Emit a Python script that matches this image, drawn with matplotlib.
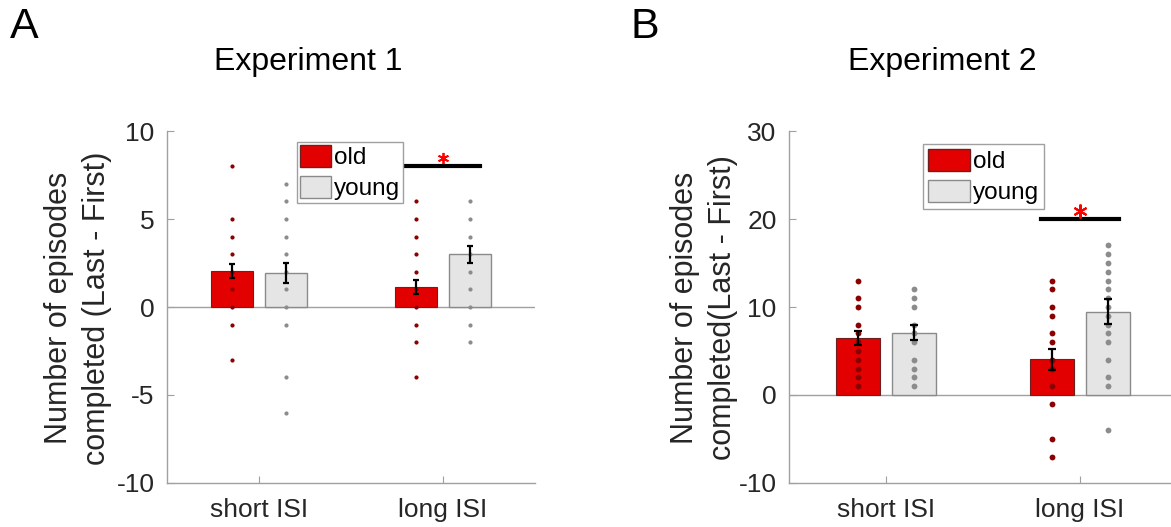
import numpy as np
import matplotlib.pyplot as plt

plt.rcParams['font.family'] = ['Liberation Sans', 'DejaVu Sans']
plt.rcParams['axes.unicode_minus'] = False

groups = ["short ISI", "long ISI"]
legend_labels = ["old", "young"]

# Experiment 1: group means and SEM (short ISI, long ISI)
exp1_old_mean = [2.05, 1.14]
exp1_old_sem = [0.38, 0.40]
exp1_young_mean = [1.93, 3.0]
exp1_young_sem = [0.55, 0.48]
# individual participant values
exp1_old_short = [8, 5, 4, 3, 2, 1, 0, -1, -3]
exp1_young_short = [7, 6, 5, 4, 3, 2, 1, 0, -1, -4, -6]
exp1_old_long = [6, 5, 4, 3, 2, 1, 0, -1, -2, -4]
exp1_young_long = [6, 5, 4, 3, 2, 1, 0, -1, -2]

# Experiment 2
exp2_old_mean = [6.5, 4.05]
exp2_old_sem = [0.8, 1.17]
exp2_young_mean = [7.1, 9.47]
exp2_young_sem = [0.8, 1.44]
exp2_old_short = [13, 11, 10, 8, 7, 6, 5, 4, 3, 2, 1]
exp2_young_short = [12, 11, 10, 8, 7, 6, 4, 3, 2, 1]
exp2_old_long = [13, 12, 10, 9, 7, 6, 4, 3, 1, -1, -5, -7]
exp2_young_long = [17, 16, 15, 14, 13, 12, 11, 10, 9, 8, 7, 6, 4, 2, 1, -4]

# significance bar height (long ISI, old vs young)
exp1_sig_y = 8
exp2_sig_y = 20

RED = '#e30000'
LIGHT = '#e5e5e5'
DOT_OLD = '#8b0000'
DOT_YOUNG = '#8c8c8c'
AXCOL = '#a0a0a0'


def draw_panel(ax, old_mean, old_sem, young_mean, young_sem, old_pts, young_pts,
               sig_y, ylim, yticks, dot_ms, cap):
    x = np.arange(1, len(groups) + 1)
    off = 0.145
    w = 0.23
    ax.axhline(0, color=AXCOL, lw=1, zorder=1)
    ax.bar(x - off, old_mean, w, color=RED, edgecolor='#6e2020', lw=0.8, zorder=2)
    ax.bar(x + off, young_mean, w, color=LIGHT, edgecolor='#8a8a8a', lw=1, zorder=2)

    # individual dots
    for i in range(len(groups)):
        ax.plot(np.full(len(old_pts[i]), x[i] - off), old_pts[i], 'o', color=DOT_OLD,
                ms=dot_ms, mew=0, zorder=3)
        ax.plot(np.full(len(young_pts[i]), x[i] + off), young_pts[i], 'o', color=DOT_YOUNG,
                ms=dot_ms, mew=0, zorder=3)

    ax.errorbar(x - off, old_mean, yerr=old_sem, fmt='none', ecolor='black', elinewidth=1.6,
                capsize=cap, capthick=1.6, zorder=4)
    ax.errorbar(x + off, young_mean, yerr=young_sem, fmt='none', ecolor='black', elinewidth=1.6,
                capsize=cap, capthick=1.6, zorder=4)

    # significance line
    ax.plot([x[1] - 0.2, x[1] + 0.2], [sig_y, sig_y], color='black', lw=3, zorder=4)

    ax.set_xlim(0.5, 2.5)
    ax.set_ylim(*ylim)
    ax.set_yticks(yticks)
    ax.set_xticks(x)
    ax.set_xticklabels(groups)
    for s in ['top', 'right']:
        ax.spines[s].set_visible(False)
    for s in ['left', 'bottom']:
        ax.spines[s].set_color(AXCOL)
        ax.spines[s].set_linewidth(1)
    ax.tick_params(direction='in', length=5, color=AXCOL, labelsize=19, labelcolor='#262626')
    ax.tick_params(axis='x', pad=11)
    ax.tick_params(axis='y', pad=9)
    return x


fig = plt.figure(figsize=(11.71, 5.27), dpi=100)

ax1 = fig.add_axes([0.1426, 0.0835, 0.3143, 0.6679])
x1 = draw_panel(ax1, exp1_old_mean, exp1_old_sem, exp1_young_mean, exp1_young_sem,
                [exp1_old_short, exp1_old_long], [exp1_young_short, exp1_young_long],
                exp1_sig_y, (-10, 10), [-10, -5, 0, 5, 10], 3.0, 2.2)
ax1.plot(x1[1], exp1_sig_y + 0.45, marker=(6, 2, 0), color='red', ms=8, mew=1.3, clip_on=False, zorder=5)

ax2 = fig.add_axes([0.6738, 0.0835, 0.3313, 0.6679])
x2 = draw_panel(ax2, exp2_old_mean, exp2_old_sem, exp2_young_mean, exp2_young_sem,
                [exp2_old_short, exp2_old_long], [exp2_young_short, exp2_young_long],
                exp2_sig_y, (-10, 30), [-10, 0, 10, 20, 30], 4.2, 2.6)
ax2.plot(x2[1], exp2_sig_y + 0.9, marker=(6, 2, 0), color='red', ms=10, mew=1.5, clip_on=False, zorder=5)

# y labels
fig.text(78 / 1171, 1 - 308 / 527, "Number of episodes\ncompleted (Last - First)", fontsize=22,
         rotation=90, ha='center', va='center', linespacing=1.35, color='#262626')
fig.text(704 / 1171, 1 - 308 / 527, "Number of episodes\ncompleted(Last - First)", fontsize=22,
         rotation=90, ha='center', va='center', linespacing=1.35, color='#262626')

# legends
handles = [plt.Rectangle((0, 0), 1, 1, facecolor=RED, edgecolor='#6e2020'),
           plt.Rectangle((0, 0), 1, 1, facecolor=LIGHT, edgecolor='#8a8a8a')]
leg1 = fig.legend(handles, legend_labels, loc='upper left', bbox_to_anchor=(297 / 1171, 1 - 142 / 527),
                  fontsize=17.5, frameon=True, fancybox=False, edgecolor='#a0a0a0', framealpha=1,
                  handlelength=1.28, handleheight=1.0, handletextpad=0.12, labelspacing=0.28,
                  borderpad=0.12, borderaxespad=0)
leg1.get_frame().set_linewidth(1)
leg2 = fig.legend(handles, legend_labels, loc='upper left', bbox_to_anchor=(923 / 1171, 1 - 144 / 527),
                  fontsize=17.5, frameon=True, fancybox=False, edgecolor='#a0a0a0', framealpha=1,
                  handlelength=1.73, handleheight=1.0, handletextpad=0.12, labelspacing=0.28,
                  borderpad=0.2, borderaxespad=0)
leg2.get_frame().set_linewidth(1)

# titles and panel letters
fig.text(308 / 1171, 1 - 62 / 527, "Experiment 1", fontsize=23, ha='center', va='center')
fig.text(942 / 1171, 1 - 62 / 527, "Experiment 2", fontsize=23, ha='center', va='center')
fig.text(10 / 1171, 1 - 27 / 527, "A", fontsize=31, ha='left', va='center')
fig.text(630 / 1171, 1 - 27 / 527, "B", fontsize=31, ha='left', va='center')

fig.savefig('out.png', dpi=100)
